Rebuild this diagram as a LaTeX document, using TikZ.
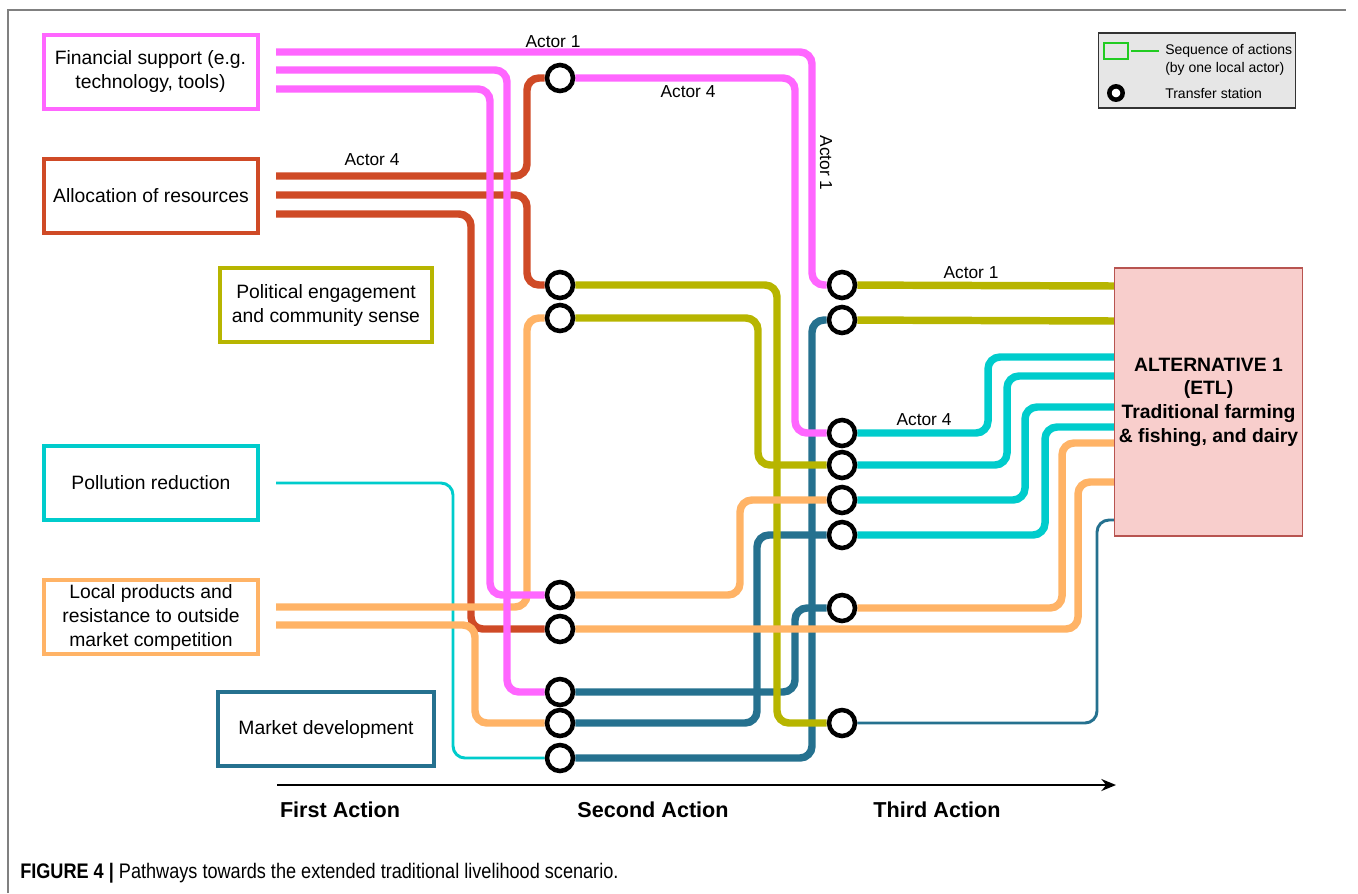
\documentclass[tikz,border=0pt]{standalone}
\usepackage{fontspec}
\setmainfont{Liberation Sans}
\newfontfamily\capfont[FakeStretch=0.86]{Liberation Sans}
\usetikzlibrary{arrows.meta}

\definecolor{cPink}{HTML}{FF66FF}
\definecolor{cRed}{HTML}{CF4A26}
\definecolor{cOlive}{HTML}{B7B500}
\definecolor{cCyan}{HTML}{00CCCC}
\definecolor{cOrange}{HTML}{FFB366}
\definecolor{cBlue}{HTML}{25718F}
\definecolor{altFill}{HTML}{F8CECC}
\definecolor{altLine}{HTML}{B85450}
\definecolor{legFill}{HTML}{E6E6E6}
\definecolor{legGreen}{HTML}{22CC22}
\definecolor{frameGray}{HTML}{808080}

\pgfdeclarelayer{routes}
\pgfsetlayers{routes,main}

\tikzset{
  route/.style={line width=5.6pt, rounded corners=9pt},
  thinroute/.style={line width=2.2pt, rounded corners=9pt},
  station/.style={circle, draw=black, fill=white, line width=3.4pt,
    minimum size=19.5pt, inner sep=0pt},
  srcbox/.style={draw, line width=3pt, fill=white, minimum width=160.5pt,
    minimum height=55.5pt, align=center, inner sep=2pt,
    font=\fontsize{14.5}{18}\selectfont},
  actor/.style={font=\fontsize{13}{15}\selectfont, inner sep=1pt},
  axislabel/.style={font=\bfseries\fontsize{16.2}{19}\selectfont},
  legtext/.style={font=\fontsize{10.5}{13}\selectfont, anchor=west, inner sep=0pt},
}

\begin{document}
\begin{tikzpicture}[x=0.75pt, y=-0.75pt]
\useasboundingbox (0,0) rectangle (1358,893);

% page frame
\draw[frameGray, line width=1.1pt] (8,893) -- (8,10) -- (1346,10);

% first-action boxes
\node[srcbox, draw=cPink]   (fin)    at (150.5,71.5) {Financial support (e.g.\\technology, tools)};
\node[srcbox, draw=cRed]    (alloc)  at (151,196)  {Allocation of resources};
\node[srcbox, draw=cOlive, minimum width=159pt]  (polit)  at (326,305)  {Political engagement\\and community sense};
\node[srcbox, draw=cCyan]   (pollu)  at (151,483)  {Pollution reduction};
\node[srcbox, draw=cOrange] (local)  at (151,617)  {Local products and\\resistance to outside\\market competition};
\node[srcbox, draw=cBlue, minimum width=162pt]   (market) at (326,729)  {Market development};

% outcome box
\node[draw=altLine, fill=altFill, line width=1.2pt, minimum width=140pt, minimum height=201pt,
      align=center, font=\bfseries\fontsize{14.5}{17.8}\selectfont] (alt) at (1208.5,402)
  {ALTERNATIVE 1\\(ETL)\\Traditional farming\\\& fishing, and dairy};

% transfer stations, second action
\node[station] (s2a) at (560,78)  {};
\node[station] (s2b) at (560,285) {};
\node[station] (s2c) at (560,318) {};
\node[station] (s2d) at (560,595) {};
\node[station] (s2e) at (560,629) {};
\node[station] (s2f) at (560,692) {};
\node[station] (s2g) at (560,723) {};
\node[station] (s2h) at (560,758) {};
% transfer stations, third action
\node[station] (s3a) at (842,285) {};
\node[station] (s3b) at (842,320) {};
\node[station] (s3c) at (842,433) {};
\node[station] (s3d) at (842,465) {};
\node[station] (s3e) at (842,500) {};
\node[station] (s3f) at (842,535) {};
\node[station] (s3g) at (842,608) {};
\node[station] (s3h) at (842,723) {};

% free route ends beside the first-action boxes
\coordinate (pA) at (276,52);
\coordinate (pB) at (276,70);
\coordinate (pC) at (276,89);
\coordinate (rA) at (276,176);
\coordinate (rB) at (276,195);
\coordinate (rC) at (276,214);
\coordinate (cyA) at (276,483);
\coordinate (oA) at (276,607);
\coordinate (oB) at (276,625);

% route ends on the outcome box
\coordinate (eL1) at (1115,286);
\coordinate (eL2) at (1115,321);
\coordinate (eC1) at (1115,357);
\coordinate (eC2) at (1115,376);
\coordinate (eC3) at (1115,407);
\coordinate (eC4) at (1115,427);
\coordinate (eO1) at (1115,443);
\coordinate (eO2) at (1115,482);
\coordinate (eB)  at (1115,520);

\begin{pgfonlayer}{routes}
  % allocation of resources
  \draw[route, cRed] (rA) -| (527,78) -- (s2a);
  \draw[route, cRed] (rB) -| (527,285) -- (s2b);
  \draw[route, cRed] (rC) -| (471,629) -- (s2e);
  % market development
  \draw[route, cBlue] (s2f) -| (795,608) -- (s3g);
  \draw[route, cBlue] (s2g) -| (757,535) -- (s3f);
  \draw[route, cBlue] (s2h) -| (812,320) -- (s3b);
  \draw[thinroute, cBlue] (s3h) -| (1097,520) -- (eB);
  % political engagement
  \draw[route, cOlive] (s2b) -| (777,723) -- (s3h);
  \draw[route, cOlive] (s2c) -| (758,465) -- (s3d);
  \draw[route, cOlive] (s3a) -- (eL1);
  \draw[route, cOlive] (s3b) -- (eL2);
  % pollution reduction
  \draw[thinroute, cCyan] (cyA) -| (453,758) -- (s2h);
  % local products
  \draw[route, cOrange] (oA) -| (527,318) -- (s2c);
  \draw[route, cOrange] (oB) -| (475,723) -- (s2g);
  \draw[route, cOrange] (s2d) -| (740,500) -- (s3e);
  \draw[route, cOrange] (s2e) -| (1078,482) -- (eO2);
  \draw[route, cOrange] (s3g) -| (1062,443) -- (eO1);
  % financial support
  \draw[route, cPink] (pA) -| (812,285) -- (s3a);
  \draw[route, cPink] (pB) -| (507,692) -- (s2f);
  \draw[route, cPink] (pC) -| (490,595) -- (s2d);
  \draw[route, cPink] (s2a) -| (795,433) -- (s3c);
  % pollution reduction, third action onwards
  \draw[route, cCyan] (s3c) -| (988,357) -- (eC1);
  \draw[route, cCyan] (s3d) -| (1007,376) -- (eC2);
  \draw[route, cCyan] (s3e) -| (1025,407) -- (eC3);
  \draw[route, cCyan] (s3f) -| (1045,427) -- (eC4);
\end{pgfonlayer}

% actor labels
\node[actor] (lab1) at (553,42) {Actor 1};
\node[actor] (lab2) at (372,160) {Actor 4};
\node[actor] (lab3) at (688,92) {Actor 4};
\node[actor, rotate=-90] (lab4) at (826,163) {Actor 1};
\node[actor] (lab5) at (971,273) {Actor 1};
\node[actor] (lab6) at (924,420) {Actor 4};

% legend
\node[draw=black!80, fill=legFill, line width=1.1pt, minimum width=148pt, minimum height=56pt,
      inner sep=0pt] (legend) at (1197,70.5) {};
\node[draw=legGreen, line width=2pt, minimum width=18pt, minimum height=12pt, inner sep=0pt]
  (legbox) at (1116,51) {};
\coordinate (legEnd) at (1159,51);
\draw[legGreen, line width=2pt] (legbox.east) ++(2,0) -- (legEnd);
\node[legtext] (legt1) at (1165,51) {Sequence of actions};
\node[legtext] (legt2) at (1165,69) {(by one local actor)};
\node[circle, draw=black, fill=white, line width=3.4pt, minimum size=10pt, inner sep=0pt]
  (legring) at (1116,93) {};
\node[legtext] (legt3) at (1165,93) {Transfer station};

% time axis
\coordinate (axS) at (277,785);
\coordinate (axE) at (1116,785);
\draw[line width=1.5pt, -{Stealth[length=11pt, width=9pt]}] (axS) -- (axE);
\node[axislabel] (first)  at (340,810) {First Action};
\node[axislabel] (second) at (653,810) {Second Action};
\node[axislabel] (third)  at (937,810) {Third Action};

% caption
\node[anchor=west, inner sep=0pt, font=\capfont\fontsize{15.8}{18}\selectfont] (cap) at (20,873)
  {\textbf{FIGURE 4 |} Pathways towards the extended traditional livelihood scenario.};
\end{tikzpicture}
\end{document}
